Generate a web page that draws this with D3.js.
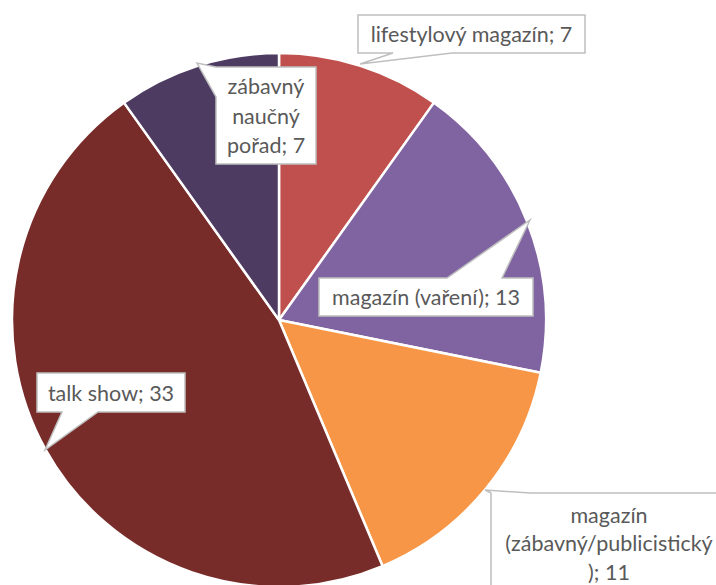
<!DOCTYPE html>
<html><head><meta charset="utf-8">
<script src="https://cdn.jsdelivr.net/npm/d3@7/dist/d3.min.js"></script>
<style>html,body{margin:0;padding:0;background:#fff;overflow:hidden}</style>
</head><body>
<svg id="chart" width="716" height="585"></svg>
<script>
const categories = ["lifestylový magazín", "magazín (vaření)", "magazín (zábavný/publicistický)", "talk show", "zábavný naučný pořad"];
const values = [7, 13, 11, 33, 7];
const labelLines = [
  ["lifestylový magazín; 7"],
  ["magazín (vaření); 13"],
  ["magazín", "(zábavný/publicistický", "); 11"],
  ["talk show; 33"],
  ["zábavný", "naučný", "pořad; 7"]
];
const colors = ["#C0504D", "#8064A2", "#F79646", "#772C2A", "#4E3B62"];

// callout layout: box [x,y,w,h], pointer tip, edge, base span along edge
const callouts = [
  {box:[358,15,227,38], tip:[360,64], edge:"bottom", base:[393,452]},
  {box:[319,278,214,38], tip:[530,220], edge:"top", base:[447,502]},
  {box:[491,493,236,100], tip:[485,490], edge:"top", base:[491,530]},
  {box:[37,373,148,39], tip:[45,450], edge:"bottom", base:[62,98]},
  {box:[216,67,100,97], tip:[197,63], edge:"left", base:[67,97]}
];

const svg = d3.select("#chart");
const cx = 279, cy = 320, R = 267;
const pie = d3.pie().sort(null).value(d => d).startAngle(0).endAngle(2*Math.PI);
const arc = d3.arc().innerRadius(0).outerRadius(R);
const arcs = pie(values);

const g = svg.append("g").attr("transform", `translate(${cx},${cy})`);
g.selectAll("path").data(arcs).join("path")
  .attr("d", arc)
  .attr("fill", (d,i) => colors[i])
  .attr("stroke", "#fff")
  .attr("stroke-width", 2.5)
  .attr("stroke-linejoin", "round");

function calloutPath(c){
  const [x,y,w,h] = c.box, [tx,ty] = c.tip, [b0,b1] = c.base;
  const x2 = x+w, y2 = y+h;
  let p = [];
  if (c.edge === "top") {
    p = [[x,y],[b0,y],[tx,ty],[b1,y],[x2,y],[x2,y2],[x,y2]];
  } else if (c.edge === "bottom") {
    p = [[x,y],[x2,y],[x2,y2],[b1,y2],[tx,ty],[b0,y2],[x,y2]];
  } else if (c.edge === "left") {
    p = [[x,y],[x2,y],[x2,y2],[x,y2],[x,b1],[tx,ty],[x,b0]];
  }
  return "M" + p.map(q => q.join(",")).join("L") + "Z";
}

const lab = svg.append("g");
callouts.forEach((c,i) => {
  lab.append("path").attr("d", calloutPath(c))
    .attr("fill", "#fff").attr("stroke", "#BFBFBF").attr("stroke-width", 1.5)
    .attr("stroke-linejoin", "miter");
  const lines = labelLines[i];
  const lh = i === 2 ? 28.5 : 29.5;
  const mx = c.box[0] + c.box[2]/2;
  let my = c.box[1] + c.box[3]/2;
  if (i === 2) my = 543;
  const t = lab.append("text")
    .attr("font-family", "Lato, 'Open Sans', sans-serif")
    .attr("font-size", 21.5)
    .attr("fill", "#595959")
    .attr("text-anchor", "middle");
  lines.forEach((ln, k) => {
    t.append("tspan").attr("x", mx)
      .attr("y", my + (k - (lines.length-1)/2) * lh)
      .attr("dominant-baseline", "central")
      .text(ln);
  });
});
</script>
</body></html>
